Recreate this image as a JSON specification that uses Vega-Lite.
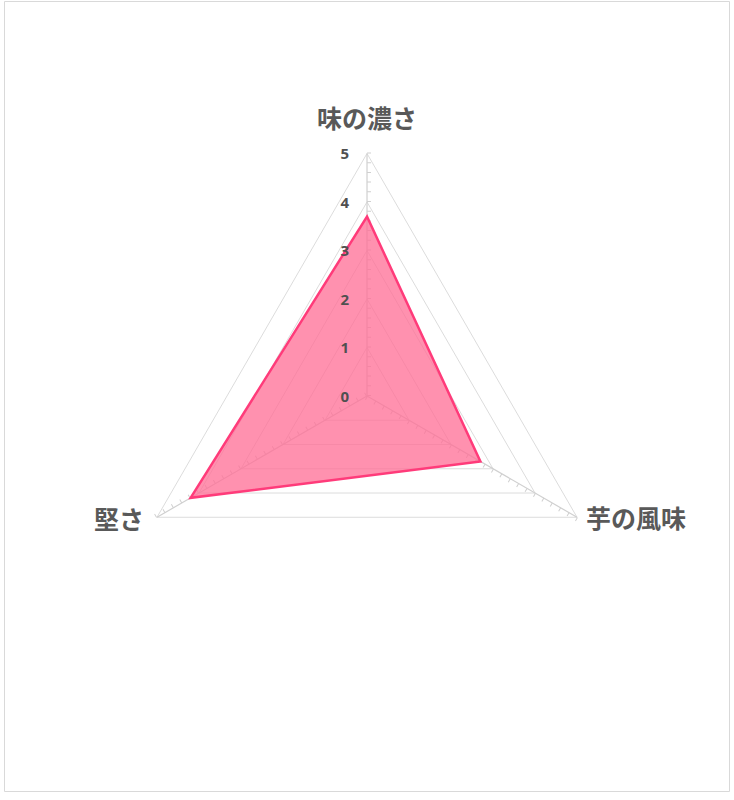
{
  "$schema": "https://vega.github.io/schema/vega-lite/v6.json",
  "width": 725,
  "height": 790,
  "autosize": {"type": "none"},
  "padding": {"left": 4, "top": 1, "right": 5, "bottom": 9},
  "background": "white",
  "datasets": {
    "scores": [
      {"項目": "味の濃さ", "idx": 0, "value": 3.7},
      {"項目": "芋の風味", "idx": 1, "value": 2.7},
      {"項目": "堅さ", "idx": 2, "value": 4.2}
    ],
    "grid": [
      {"idx": 0, "level": 1}, {"idx": 1, "level": 1}, {"idx": 2, "level": 1},
      {"idx": 0, "level": 2}, {"idx": 1, "level": 2}, {"idx": 2, "level": 2},
      {"idx": 0, "level": 3}, {"idx": 1, "level": 3}, {"idx": 2, "level": 3},
      {"idx": 0, "level": 4}, {"idx": 1, "level": 4}, {"idx": 2, "level": 4},
      {"idx": 0, "level": 5}, {"idx": 1, "level": 5}, {"idx": 2, "level": 5}
    ],
    "levels": [
      {"level": 0}, {"level": 1}, {"level": 2}, {"level": 3}, {"level": 4}, {"level": 5}
    ]
  },
  "encoding": {
    "x": {"field": "x", "type": "quantitative", "axis": null,
          "scale": {"domain": [-7.485, 7.464], "nice": false, "zero": false}},
    "y": {"field": "y", "type": "quantitative", "axis": null,
          "scale": {"domain": [-8.144, 8.144], "nice": false, "zero": false}}
  },
  "layer": [
    {
      "data": {"name": "grid"},
      "transform": [
        {"calculate": "PI / 2 - datum.idx * 2 * PI / 3", "as": "angle"},
        {"calculate": "datum.level * cos(datum.angle)", "as": "x"},
        {"calculate": "datum.level * sin(datum.angle)", "as": "y"}
      ],
      "mark": {"type": "line", "interpolate": "linear-closed", "stroke": "#dcdcdc", "strokeWidth": 1},
      "encoding": {
        "detail": {"field": "level", "type": "nominal"},
        "order": {"field": "idx", "type": "quantitative"}
      }
    },
    {
      "data": {"name": "scores"},
      "transform": [
        {"calculate": "PI / 2 - datum.idx * 2 * PI / 3", "as": "angle"},
        {"calculate": "0", "as": "x"},
        {"calculate": "0", "as": "y"},
        {"calculate": "5 * cos(datum.angle)", "as": "x5"},
        {"calculate": "5 * sin(datum.angle)", "as": "y5"}
      ],
      "mark": {"type": "rule", "stroke": "#d0d0d0", "strokeWidth": 1.2},
      "encoding": {
        "x2": {"field": "x5"},
        "y2": {"field": "y5"}
      }
    },
    {
      "data": {"name": "scores"},
      "transform": [
        {"calculate": "PI / 2 - datum.idx * 2 * PI / 3", "as": "angle"},
        {"calculate": "0.0412 * cos(datum.angle - PI / 2)", "as": "x"},
        {"calculate": "0.0412 * sin(datum.angle - PI / 2)", "as": "y"},
        {"calculate": "datum.x + 5.02 * cos(datum.angle)", "as": "x5"},
        {"calculate": "datum.y + 5.02 * sin(datum.angle)", "as": "y5"}
      ],
      "mark": {"type": "rule", "stroke": "#d0d0d0", "strokeWidth": 4, "strokeDash": [1, 8.7]},
      "encoding": {
        "x2": {"field": "x5"},
        "y2": {"field": "y5"}
      }
    },
    {
      "data": {"name": "scores"},
      "transform": [
        {"calculate": "PI / 2 - datum.idx * 2 * PI / 3", "as": "angle"},
        {"calculate": "datum.value * cos(datum.angle)", "as": "x"},
        {"calculate": "datum.value * sin(datum.angle)", "as": "y"}
      ],
      "mark": {"type": "line", "interpolate": "linear-closed", "fill": "#ff6e96", "fillOpacity": 0.76,
               "stroke": "#ff3b7a", "strokeWidth": 2.5, "strokeJoin": "miter"},
      "encoding": {
        "order": {"field": "idx", "type": "quantitative"}
      }
    },
    {
      "data": {"name": "levels"},
      "transform": [
        {"calculate": "0", "as": "x"},
        {"calculate": "datum.level", "as": "y"}
      ],
      "mark": {"type": "text", "align": "right", "baseline": "middle", "dx": -18, "dy": 1,
               "font": "Open Sans", "fontSize": 15, "fontWeight": "bold", "fill": "#505050"},
      "encoding": {
        "text": {"field": "level", "type": "quantitative"}
      }
    },
    {
      "data": {"name": "scores"},
      "transform": [
        {"calculate": "PI / 2 - datum.idx * 2 * PI / 3", "as": "angle"},
        {"calculate": "5 * cos(datum.angle)", "as": "x"},
        {"calculate": "5 * sin(datum.angle)", "as": "y"}
      ],
      "layer": [
        {
          "transform": [{"filter": "datum.idx == 0"}],
          "mark": {"type": "text", "align": "center", "baseline": "middle", "dy": -33,
                   "font": "Noto Sans CJK JP", "fontSize": 25, "fontWeight": "bold", "fill": "#595959"},
          "encoding": {"text": {"field": "項目"}}
        },
        {
          "transform": [{"filter": "datum.idx == 1"}],
          "mark": {"type": "text", "align": "left", "baseline": "middle", "dx": 9, "dy": 3,
                   "font": "Noto Sans CJK JP", "fontSize": 25, "fontWeight": "bold", "fill": "#595959"},
          "encoding": {"text": {"field": "項目"}}
        },
        {
          "transform": [{"filter": "datum.idx == 2"}],
          "mark": {"type": "text", "align": "right", "baseline": "middle", "dx": -13, "dy": 4,
                   "font": "Noto Sans CJK JP", "fontSize": 25, "fontWeight": "bold", "fill": "#595959"},
          "encoding": {"text": {"field": "項目"}}
        }
      ]
    }
  ],
  "config": {
    "view": {"stroke": "#d9d9d9", "strokeWidth": 1}
  }
}
